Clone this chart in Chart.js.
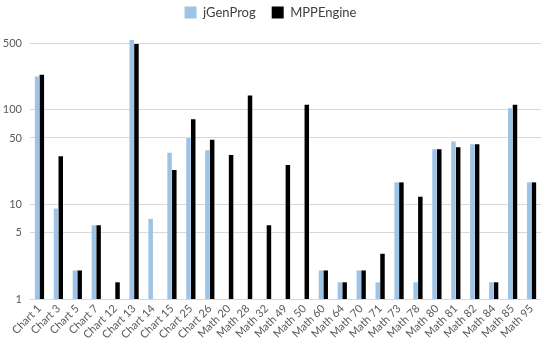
<!DOCTYPE html>
<html>
<head>
<meta charset="utf-8">
<script src="https://cdn.jsdelivr.net/npm/chart.js@4/dist/chart.umd.min.js"></script>
<style>
html,body{margin:0;padding:0;background:#fff;}
#wrap{width:550px;height:349px;position:relative;}
</style>
</head>
<body>
<div id="wrap"><canvas id="c"></canvas></div>
<script>
const categories = ["Chart 1","Chart 3","Chart 5","Chart 7","Chart 12","Chart 13","Chart 14","Chart 15","Chart 25","Chart 26","Math 20","Math 28","Math 32","Math 49","Math 50","Math 60","Math 64","Math 70","Math 71","Math 73","Math 78","Math 80","Math 81","Math 82","Math 84","Math 85","Math 95"];
const jGenProg = [222, 9, 2, 6, null, 540, 7, 35, 50, 37, null, null, null, null, null, 2, 1.5, 2, 1.5, 17, 1.5, 38, 46, 43, 1.5, 103, 17];
const MPPEngine = [232, 32, 2, 6, 1.5, 490, null, 23, 79, 48, 33, 140, 6, 26, 112, 2, 1.5, 2, 3, 17, 12, 38, 40, 43, 1.5, 112, 17];
const yTicks = [1, 5, 10, 50, 100, 500];

const FONT = "Lato, 'Open Sans', sans-serif";
new Chart(document.getElementById('c'), {
  type: 'bar',
  data: {
    labels: categories,
    datasets: [
      {label: 'jGenProg', data: jGenProg, backgroundColor: '#9dc3e6', borderWidth: 0, categoryPercentage: 0.5, barPercentage: 0.95},
      {label: 'MPPEngine', data: MPPEngine, backgroundColor: '#000000', borderWidth: 0, categoryPercentage: 0.5, barPercentage: 0.95}
    ]
  },
  options: {
    responsive: true,
    maintainAspectRatio: false,
    animation: false,
    layout: {padding: {top: -10, right: 9, bottom: 0, left: 0}},
    plugins: {
      legend: {
        position: 'top',
        labels: {boxWidth: 12, boxHeight: 12, padding: 16, color: '#404040', font: {family: FONT, size: 13}}
      },
      tooltip: {enabled: false}
    },
    scales: {
      x: {
        grid: {display: false, drawTicks: false},
        border: {display: false},
        ticks: {color: '#595959', font: {family: FONT, size: 11}, maxRotation: 45, minRotation: 45, padding: 3, autoSkip: false},
        afterFit: s => { s.height = 50; }
      },
      y: {
        type: 'logarithmic',
        min: 1,
        max: 706,
        afterBuildTicks: s => { s.ticks = yTicks.map(v => ({value: v})); },
        grid: {color: '#d9d9d9', lineWidth: 1, drawTicks: false},
        border: {display: false},
        ticks: {color: '#595959', font: {family: FONT, size: 11}, padding: 8, callback: v => String(v)},
        afterFit: s => { s.width = 30; }
      }
    }
  }
});
</script>
</body>
</html>
